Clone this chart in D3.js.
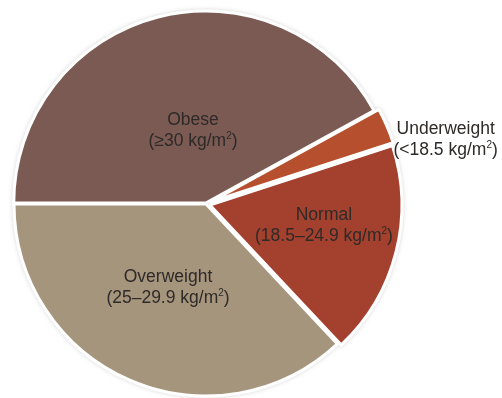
<!DOCTYPE html>
<html>
<head>
<meta charset="utf-8">
<script src="https://cdn.jsdelivr.net/npm/d3@7/dist/d3.min.js"></script>
<style>
  html, body { margin: 0; padding: 0; background: #fff; }
  svg { display: block; }
  text { font-family: "Liberation Sans", Arial, Helvetica, sans-serif; fill: #2e2a28; }
</style>
</head>
<body>
<svg id="chart" width="502" height="398"></svg>
<script>
// BMI categories and their share of the population (%)
const categories = ["Obese", "Underweight", "Normal", "Overweight"];
const ranges = ["≥30 kg/m", "<18.5 kg/m", "18.5–24.9 kg/m", "25–29.9 kg/m"];
const shares = [42, 3, 18, 37];
const colors = ["#7a5a52", "#b5502f", "#a33f2f", "#a6957d"];

const width = 502, height = 398;
const radius = 192;
const cx = 206, cy = 204;

const svg = d3.select("#chart");

// soft halo around the pie edge
const defs = svg.append("defs");
const f = defs.append("filter").attr("id", "halo")
  .attr("x", "-10%").attr("y", "-10%").attr("width", "120%").attr("height", "120%");
f.append("feDropShadow").attr("dx", 0).attr("dy", 0)
  .attr("stdDeviation", 2.2).attr("flood-color", "#888").attr("flood-opacity", 0.35);

const data = categories.map((c, i) => ({ name: c, range: ranges[i], value: shares[i], color: colors[i] }));

const pie = d3.pie().value(d => d.value).sort(null)
  .startAngle(-Math.PI / 2).endAngle(1.5 * Math.PI);
const arcs = pie(data);

const arc = d3.arc().innerRadius(0).outerRadius(radius);

// how far each slice is pulled out from the centre
const explode = { Obese: 1, Underweight: 5, Normal: 4, Overweight: 0 };

const g = svg.append("g")
  .attr("transform", `translate(${cx},${cy})`)
  .attr("filter", "url(#halo)");

g.selectAll("path").data(arcs).join("path")
  .attr("d", arc)
  .attr("fill", d => d.data.color)
  .attr("stroke", "#fff")
  .attr("stroke-width", 3)
  .attr("stroke-linejoin", "round")
  .attr("transform", d => {
    const a = (d.startAngle + d.endAngle) / 2;
    const e = explode[d.data.name];
    return `translate(${Math.sin(a) * e},${-Math.cos(a) * e})`;
  });

// label placement: [distance from centre, angular nudge in degrees from the mid-angle]
const labelPlace = {
  Obese: [74, 4.3],
  Underweight: [248, 8.5],
  Normal: [120, -3.8],
  Overweight: [92, 1]
};

const labels = svg.append("g").attr("transform", `translate(${cx},${cy})`);

arcs.forEach(d => {
  const [r, nudge] = labelPlace[d.data.name];
  const a = (d.startAngle + d.endAngle) / 2 + nudge * Math.PI / 180;
  const x = Math.sin(a) * r, y = -Math.cos(a) * r;
  const t = labels.append("text")
    .attr("text-anchor", "middle")
    .attr("font-size", 17.5);
  t.append("tspan").attr("x", x).attr("y", y - 6).text(d.data.name);
  const l2 = t.append("tspan").attr("x", x).attr("y", y + 15);
  l2.append("tspan").text("(" + d.data.range);
  l2.append("tspan").attr("font-size", 10).attr("dy", -7).text("2");
  l2.append("tspan").attr("dy", 7).text(")");
});
</script>
</body>
</html>
